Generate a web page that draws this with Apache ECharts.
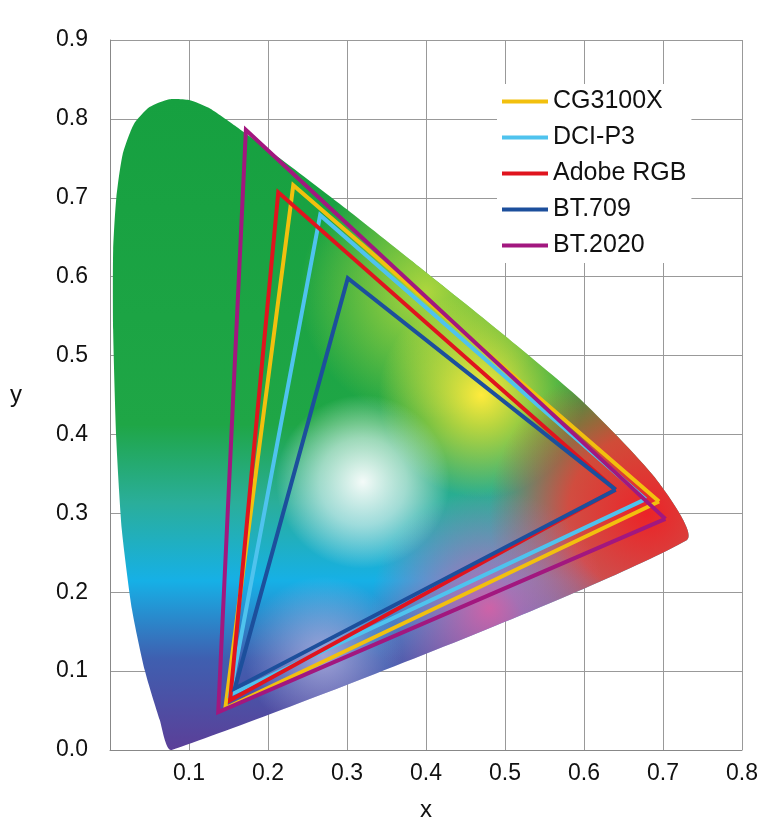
<!DOCTYPE html>
<html>
<head>
<meta charset="utf-8">
<script src="https://cdn.jsdelivr.net/npm/echarts@6/dist/echarts.min.js"></script>
<style>html,body{margin:0;padding:0;background:#fff}#main{width:773px;height:840px}</style>
</head>
<body>
<div id="main"></div>
<script>
// Outline of the coloured chromaticity area (x, y)
const locus = [
  [0.078, 0.0], [0.063, 0.038], [0.044, 0.101], [0.028, 0.177], [0.015, 0.279],
  [0.008, 0.393], [0.004, 0.532], [0.004, 0.634], [0.008, 0.700], [0.016, 0.755],
  [0.030, 0.793], [0.050, 0.815], [0.075, 0.825], [0.100, 0.824], [0.125, 0.814],
  [0.160, 0.790], [0.215, 0.750], [0.304, 0.682], [0.392, 0.612], [0.494, 0.530],
  [0.595, 0.445], [0.690, 0.345], [0.730, 0.266]
];

// Gamut triangles: [red, green, blue]
const gamutNames = ['CG3100X', 'DCI-P3', 'Adobe RGB', 'BT.709', 'BT.2020'];
const gamutColors = ['#f2c00e', '#4fc3ee', '#e0141e', '#1c4f9c', '#a2177f'];
const gamutPoints = [
  [[0.695, 0.315], [0.232, 0.716], [0.146, 0.053]],
  [[0.678, 0.318], [0.266, 0.678], [0.152, 0.070]],
  [[0.640, 0.330], [0.213, 0.707], [0.152, 0.063]],
  [[0.640, 0.330], [0.301, 0.598], [0.158, 0.078]],
  [[0.703, 0.293], [0.172, 0.786], [0.137, 0.048]]
];

const chart = echarts.init(document.getElementById('main'));

function radial(api, cx, cy, rx, stops) {
  const c = api.coord([cx, cy]);
  const r = api.size([rx, 0])[0];
  return new echarts.graphic.RadialGradient(c[0], c[1], r, stops, true);
}

const locusSeries = {
  type: 'custom',
  silent: true,
  data: [0],
  z: 1,
  renderItem: (params, api) => {
    const shape = { points: locus.map(p => api.coord(p)), smooth: 0.2 };
    const fills = [
      new echarts.graphic.LinearGradient(0, 0, 0, 1, [
        { offset: 0, color: '#16a040' }, { offset: 0.5, color: '#1fa646' },
        { offset: 0.62, color: '#2aae9a' }, { offset: 0.74, color: '#16b0e6' },
        { offset: 0.86, color: '#3f5fb0' }, { offset: 1, color: '#5b3f98' }
      ]),
      radial(api, 0.40, 0.58, 0.16, [{ offset: 0, color: 'rgba(190,220,60,0.9)' }, { offset: 1, color: 'rgba(190,220,60,0)' }]),
      radial(api, 0.47, 0.45, 0.13, [{ offset: 0, color: 'rgba(255,235,60,1)' }, { offset: 1, color: 'rgba(255,235,60,0)' }]),
      radial(api, 0.68, 0.30, 0.20, [{ offset: 0, color: 'rgba(235,35,40,1)' }, { offset: 0.5, color: 'rgba(238,60,50,0.85)' }, { offset: 1, color: 'rgba(238,60,50,0)' }]),
      radial(api, 0.48, 0.18, 0.15, [{ offset: 0, color: 'rgba(235,90,160,0.85)' }, { offset: 1, color: 'rgba(235,90,160,0)' }]),
      radial(api, 0.32, 0.34, 0.11, [{ offset: 0, color: 'rgba(255,255,255,0.95)' }, { offset: 0.5, color: 'rgba(240,250,250,0.6)' }, { offset: 1, color: 'rgba(255,255,255,0)' }]),
      radial(api, 0.27, 0.12, 0.10, [{ offset: 0, color: 'rgba(200,190,230,0.7)' }, { offset: 1, color: 'rgba(200,190,230,0)' }])
    ];
    return {
      type: 'group',
      children: fills.map(f => ({ type: 'polygon', shape: shape, style: { fill: f } }))
    };
  }
};

const gamutSeries = gamutNames.map((name, i) => ({
  name: name,
  type: 'line',
  symbol: 'none',
  z: 3,
  lineStyle: { color: gamutColors[i], width: 4, join: 'miter' },
  itemStyle: { color: gamutColors[i] },
  data: gamutPoints[i].concat([gamutPoints[i][0]])
}));

const font = { color: '#111', fontFamily: 'Liberation Sans' };

chart.setOption({
  animation: false,
  grid: { left: 110, right: 31, top: 40, bottom: 90 },
  legend: {
    orient: 'vertical',
    left: 497,
    top: 84,
    itemWidth: 46,
    itemHeight: 4,
    itemGap: 11,
    icon: 'rect',
    backgroundColor: '#fff',
    textStyle: Object.assign({ fontSize: 25 }, font),
    data: gamutNames
  },
  xAxis: {
    type: 'value', min: 0, max: 0.8, interval: 0.1,
    name: 'x', nameLocation: 'middle', nameGap: 48,
    nameTextStyle: Object.assign({ fontSize: 24 }, font),
    axisLine: { lineStyle: { color: '#888' } },
    axisTick: { show: false },
    axisLabel: Object.assign({ fontSize: 23, margin: 12,
      formatter: v => (v === 0 ? '' : v.toFixed(1)) }, font),
    splitLine: { lineStyle: { color: '#999', width: 1 } }
  },
  yAxis: {
    type: 'value', min: 0, max: 0.9, interval: 0.1,
    name: 'y', nameLocation: 'middle', nameGap: 88, nameRotate: 0,
    nameTextStyle: Object.assign({ fontSize: 24 }, font),
    axisLine: { show: true, lineStyle: { color: '#888' } },
    axisTick: { show: false },
    axisLabel: Object.assign({ fontSize: 23, margin: 22,
      formatter: v => v.toFixed(1) }, font),
    splitLine: { lineStyle: { color: '#999', width: 1 } }
  },
  series: [locusSeries].concat(gamutSeries)
});
</script>
</body>
</html>
